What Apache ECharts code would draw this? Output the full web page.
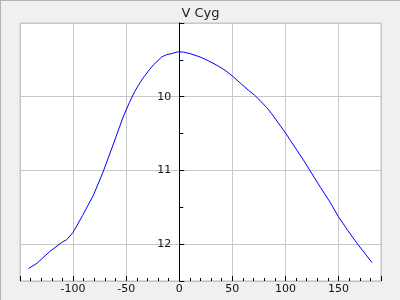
<!DOCTYPE html>
<html>
<head>
<meta charset="utf-8">
<script src="https://cdn.jsdelivr.net/npm/echarts@6/dist/echarts.min.js"></script>
<style>
html,body{margin:0;padding:0;background:#f0f0f0;}
#wrap{width:399px;height:299px;border-left:1px solid #b4b4b4;border-top:1px solid #b4b4b4;background:#f0f0f0;}
#chart{width:399px;height:299px;}
</style>
</head>
<body>
<div id="wrap"><div id="chart"></div></div>
<script>
var titleText = 'V Cyg';
var phase = [-142, -134, -122, -110, -106, -100, -91, -81, -72, -62, -53, -47, -42, -37, -34, -29, -24.5, -20, -16.5, -12, -7, -1, 4, 10, 19.5, 27, 35, 43, 51, 57, 65, 71, 76, 82.5, 87, 92, 100, 105, 111, 117, 123, 133, 142, 150, 159, 168, 174, 181.5];
var mag = [12.33, 12.26, 12.10, 11.97, 11.94, 11.84, 11.61, 11.34, 11.03, 10.64, 10.28, 10.08, 9.93, 9.81, 9.745, 9.65, 9.57, 9.51, 9.46, 9.43, 9.415, 9.39, 9.395, 9.415, 9.46, 9.51, 9.57, 9.64, 9.73, 9.81, 9.91, 9.98, 10.05, 10.15, 10.23, 10.33, 10.49, 10.60, 10.73, 10.86, 11.0, 11.23, 11.43, 11.63, 11.82, 12.0, 12.11, 12.25];
var points = phase.map(function (p, i) { return [p, mag[i]]; });

var xMin = -150, xMax = 190;
var gridLeft = 19, gridRight = 19, chartWidth = 399;
var gridWidth = chartWidth - gridLeft - gridRight;
// place the y axis on x = 0 of the x scale
var yAxisOffset = -((0 - xMin) / (xMax - xMin)) * gridWidth;

var chart = echarts.init(document.getElementById('chart'), null, {renderer: 'canvas'});
var font = 'DejaVu Sans';
chart.setOption({
  backgroundColor: '#f0f0f0',
  animation: false,
  title: {
    text: titleText,
    left: 'center',
    top: 1,
    textStyle: {fontFamily: font, fontSize: 13, fontWeight: 'normal', color: '#222'}
  },
  grid: {
    left: gridLeft, right: gridRight, top: 22, bottom: 19,
    containLabel: false, outerBoundsMode: 'none',
    show: true, backgroundColor: '#ffffff', borderColor: '#c0c0c0', borderWidth: 1
  },
  xAxis: {
    type: 'value', min: xMin, max: xMax, interval: 50,
    axisLine: {onZero: false, lineStyle: {color: '#c0c0c0'}},
    axisTick: {inside: true, length: 5, lineStyle: {color: '#000'}},
    minorTick: {show: true, splitNumber: 5, length: 3, lineStyle: {color: '#000'}},
    axisLabel: {showMinLabel: false, showMaxLabel: false, margin: 3, fontFamily: font, fontSize: 11, color: '#111'},
    splitLine: {show: true, lineStyle: {color: '#c8c8c8'}}
  },
  yAxis: {
    type: 'value', min: 9, max: 12.5, interval: 1, inverse: true,
    position: 'left', offset: yAxisOffset,
    axisLine: {show: true, onZero: false, lineStyle: {color: '#000'}},
    axisTick: {show: true, inside: true, length: 5, lineStyle: {color: '#000'}},
    minorTick: {show: true, splitNumber: 2, length: 4, lineStyle: {color: '#000'}},
    axisLabel: {showMinLabel: false, showMaxLabel: false, margin: 8, fontFamily: font, fontSize: 11, color: '#111'},
    splitLine: {show: true, lineStyle: {color: '#c8c8c8'}}
  },
  series: [{
    type: 'line',
    data: points,
    showSymbol: false,
    smooth: false,
    lineStyle: {color: '#0000ff', width: 1},
    itemStyle: {color: '#0000ff'}
  }]
});
</script>
</body>
</html>
